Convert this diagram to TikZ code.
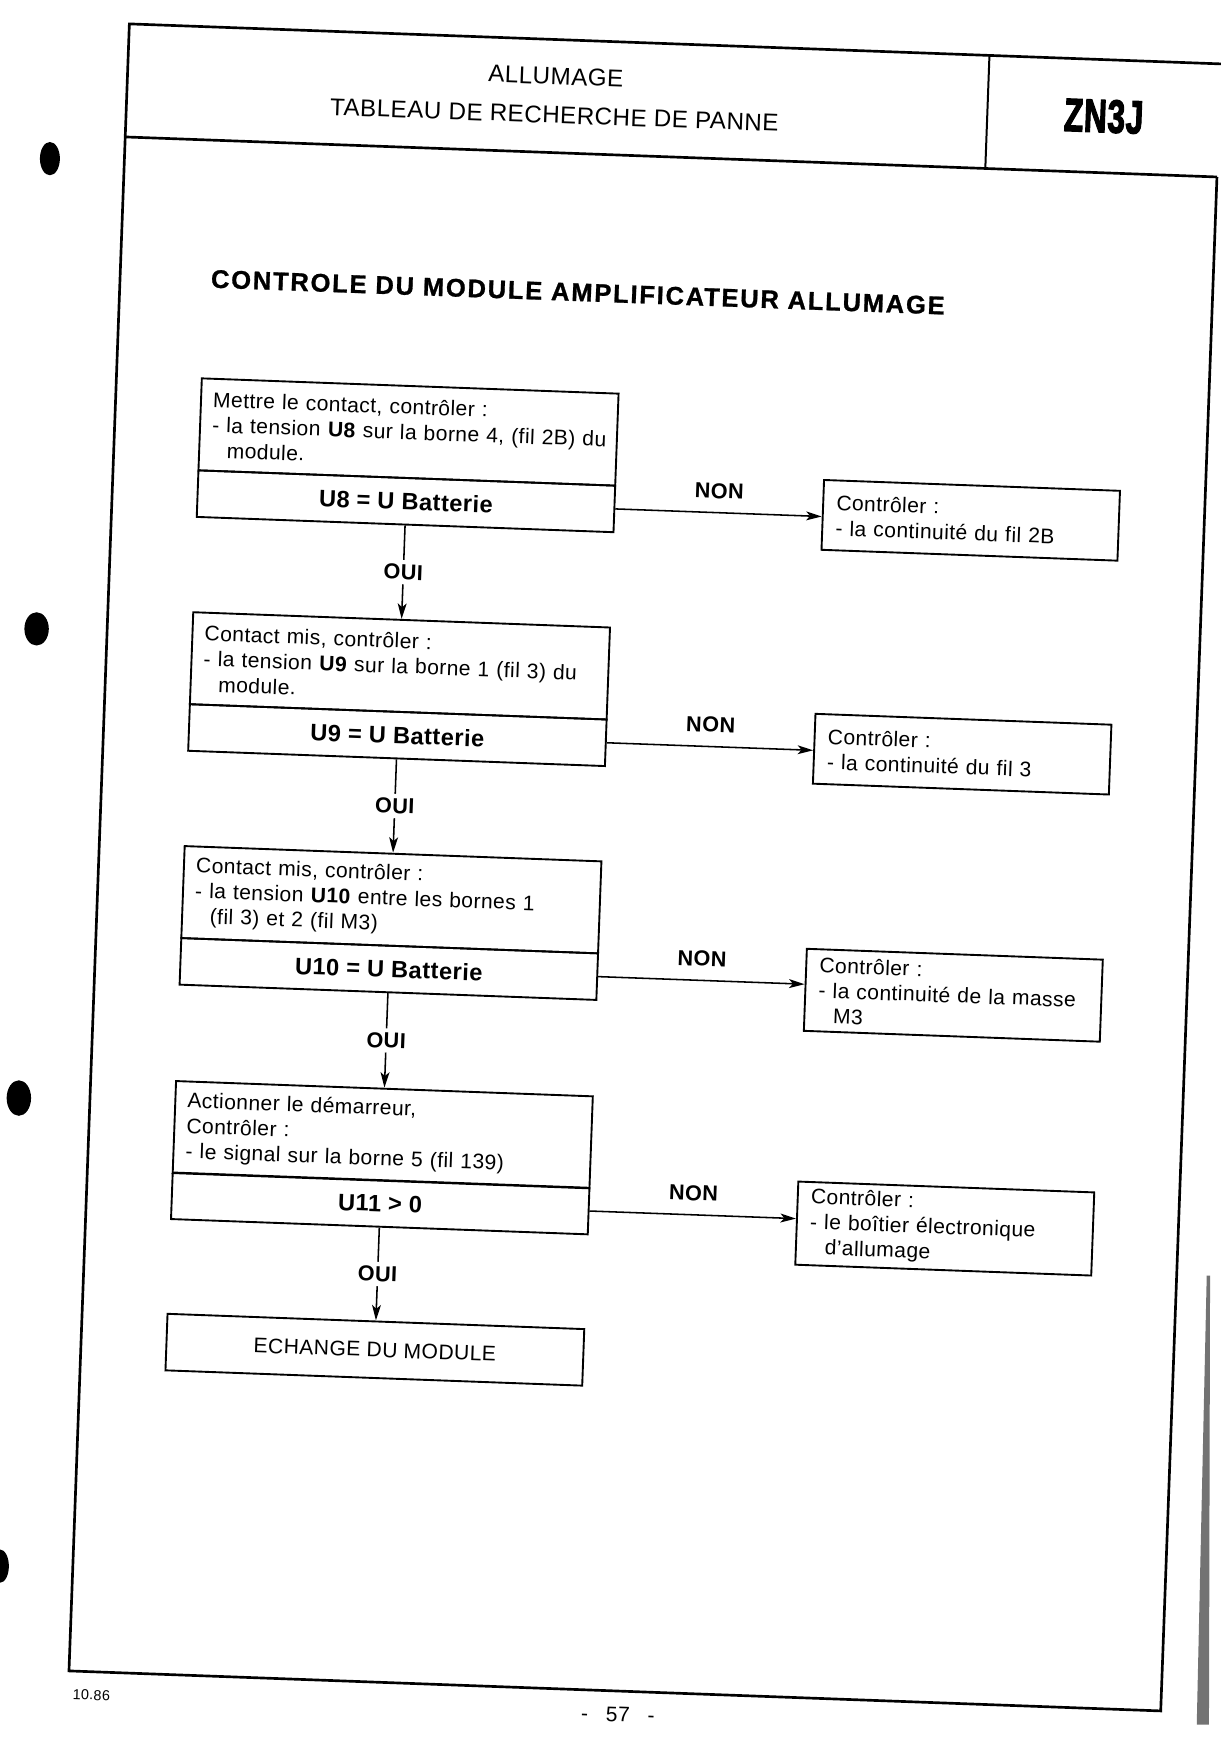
\documentclass[tikz,border=0pt]{standalone}
\usepackage{fontspec}
\setmainfont{Liberation Sans}[LetterSpace=2]
\usepackage{graphicx}
\usetikzlibrary{arrows.meta,calc}

\newcommand{\fullline}[1]{\makebox[354pt][s]{#1}}

\begin{document}
\begin{tikzpicture}
	[x=1pt,y=-1pt,line join=miter,
	 every node/.style={inner sep=0pt},
	 box/.style={draw,line width=1.7pt,rectangle,minimum width=376pt,font=\fontsize{19}{22.8}\selectfont},
	 askbox/.style={box,minimum height=83pt,text width=354pt,inner xsep=11pt,align=left},
	 testbox/.style={box,minimum height=42pt,font=\fontsize{21.3}{22}\selectfont\bfseries},
	 fixbox/.style={draw,line width=1.7pt,rectangle,minimum width=267pt,text width=243pt,inner xsep=12pt,align=left,font=\fontsize{19}{22.8}\selectfont},
	 answer/.style={fill=white,inner xsep=2pt,inner ysep=4pt,font=\fontsize{19.5}{20}\selectfont\bfseries},
	 link/.style={line width=1.4pt,-{Stealth[length=14pt,width=8pt,inset=3.5pt]}}]

	\useasboundingbox (0,0) rectangle (1100,1567);
	\fill[white] (0,0) rectangle (1100,1567);

	\fill (45,143) ellipse (9 and 15);
	\fill (33,567) ellipse (11 and 15);
	\fill (17,990) ellipse (11 and 16);
	\fill (0,1412) ellipse (8 and 15);
	\fill[black!55] (1088,1150) -- (1091,1150) -- (1090,1555) -- (1079,1555) -- cycle;

  \begin{scope}[rotate around={-2.1:(580,784)},transform shape]

	\draw[line width=2.4pt] (1074,141) -- (1074,1525) -- (89,1525) -- (89,39) -- (1074,39);
	\draw[line width=2.4pt] (89,141) -- (1074,141);
	\draw[line width=1.8pt] (865,39) -- (865,141);

	\node[align=center,font=\fontsize{21.8}{35}\selectfont] (head) at (475,89.5) {ALLUMAGE\\TABLEAU DE RECHERCHE DE PANNE};
	\node[font=\fontsize{42}{42}\selectfont\bfseries\addfontfeature{FakeBold=3}] (code) at (970,90) {\scalebox{0.68}[1]{ZN3J}};
	\node[font=\fontsize{23}{23}\selectfont\bfseries\addfontfeature{LetterSpace=7,FakeBold=1}] (title) at (502,266) {CONTROLE DU MODULE AMPLIFICATEUR ALLUMAGE};

	\node[askbox] (b1) at (354,397.5) {Mettre le contact, contrôler :\\\fullline{- la tension \textbf{U8} sur la borne 4, (fil 2B) du}\\\hspace*{14pt}module.};
	\node[testbox] (d1) at (354,460) {U8 = U Batterie};

	\node[askbox] (b2) at (354,608.5) {Contact mis, contrôler :\\\fullline{- la tension \textbf{U9} sur la borne 1 (fil 3) du}\\\hspace*{14pt}module.};
	\node[testbox] (d2) at (354,671) {U9 = U Batterie};

	\node[askbox] (b3) at (354,819.5) {Contact mis, contrôler :\\- la tension \textbf{U10} entre les bornes 1\\\hspace*{14pt}(fil 3) et 2 (fil M3)};
	\node[testbox] (d3) at (354,882) {U10 = U Batterie};

	\node[askbox] (b4) at (354,1031.5) {Actionner le démarreur,\\Contrôler :\\- le signal sur la borne 5 (fil 139)};
	\node[testbox] (d4) at (354,1093.5) {U11 > 0};

	\node[box,minimum height=51pt] (b5) at (354,1225.5) {ECHANGE DU MODULE};

	\node[fixbox,minimum height=63pt] (r1) at (863.5,458.5) {Contrôler :\\- la continuité du fil 2B};
	\node[fixbox,minimum height=63pt] (r2) at (863.5,669.5) {Contrôler :\\- la continuité du fil 3};
	\node[fixbox,minimum height=74pt] (r3) at (863.5,887) {Contrôler :\\- la continuité de la masse\\\hspace*{14pt}M3};
	\node[fixbox,minimum height=75pt] (r4) at (863.5,1097.5) {Contrôler :\\- le boîtier électronique\\\hspace*{14pt}d’allumage};

	\foreach \from/\to in {d1/b2,d2/b3,d3/b4,d4/b5}
    \draw[link] (\from) -- node[answer] {OUI} (\to);

	\foreach \from/\to in {d1/r1,d2/r2,d3/r3,d4/r4}
    \draw[link] (\from.east) -- node[answer,above=8pt] {NON} ($(\to.north west)!(\from.east)!(\to.south west)$);

	\node[font=\fontsize{13}{13}\selectfont] (date) at (110,1546) {10.86};
	\node[font=\fontsize{19}{19}\selectfont] (page) at (585,1546) {-\hspace{16pt}57\hspace{16pt}-};

  \end{scope}
\end{tikzpicture}
\end{document}
